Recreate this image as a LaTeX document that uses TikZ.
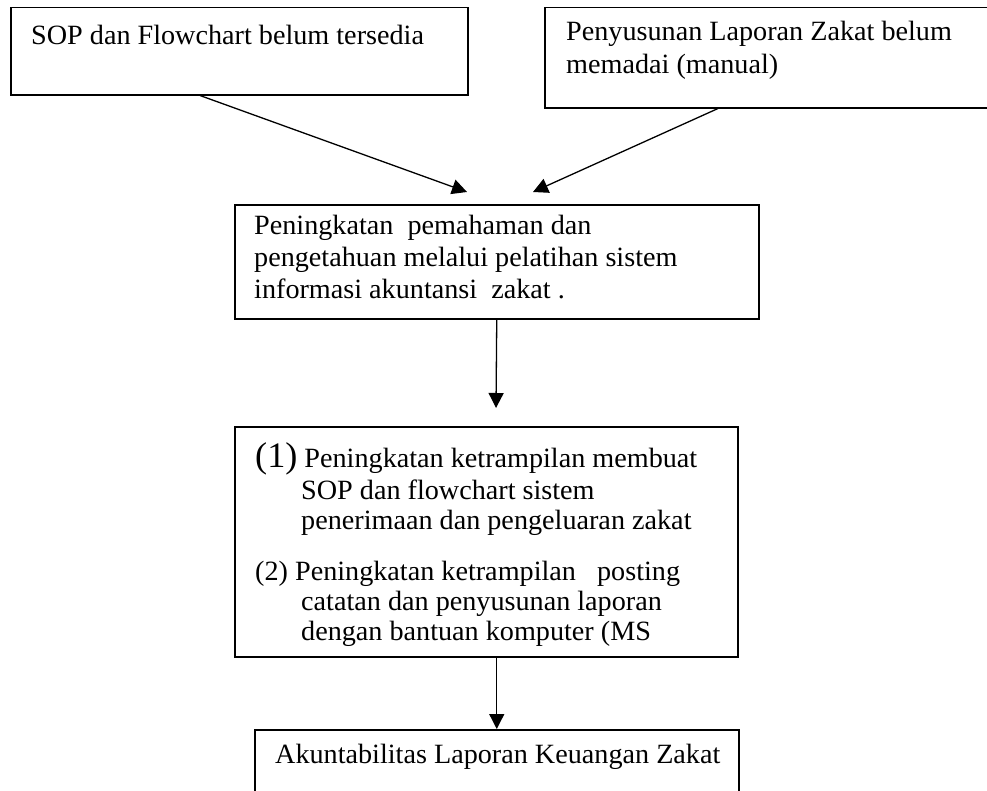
\documentclass[tikz,border=0pt]{standalone}
\usepackage{fontspec}
\setmainfont[FakeStretch=1.01]{Liberation Serif}
\usetikzlibrary{arrows.meta,calc}

\begin{document}
\begin{tikzpicture}[x=1bp,y=-1bp,
  box/.style={draw, line width=1.5bp, rectangle, inner sep=0pt, anchor=north west},
  txt/.style={anchor=base west, inner sep=0pt, font=\fontsize{28}{32}\selectfont},
  arr/.style={line width=1.3bp, -{Triangle[length=15bp,width=15bp]}}]

\useasboundingbox (0,0) rectangle (987,791);
\clip (0,0) rectangle (987,791);

% boxes
\node[box, minimum width=457bp, minimum height=87bp]  (b1) at (10,7) {};
\node[box, minimum width=470bp, minimum height=100bp] (b2) at (544,7) {};
\node[box, minimum width=524bp, minimum height=114bp] (b3) at (234,204) {};
\node[box, minimum width=503bp, minimum height=230bp] (b4) at (234,426) {};
\node[box, minimum width=484bp, minimum height=80bp]  (b5) at (254,729) {};

% box texts
\node[txt] (t1) at (31,45) {SOP dan Flowchart belum tersedia};

\node[txt] (t2a) at (566,41) {Penyusunan Laporan Zakat belum};
\node[txt] (t2b) at (566,74) {memadai (manual)};

\node[txt] (t3a) at (254,234) {Peningkatan\ \ pemahaman dan};
\node[txt] (t3b) at (254,266) {pengetahuan melalui pelatihan sistem};
\node[txt] (t3c) at (254,298) {informasi akuntansi\ \ zakat .};

\node[txt] (t4a) at (255,467) {{\fontsize{36}{36}\selectfont(1)} Peningkatan ketrampilan membuat};
\node[txt] (t4b) at (301,499) {SOP dan flowchart sistem};
\node[txt] (t4c) at (301,529) {penerimaan dan pengeluaran zakat};
\node[txt] (t4d) at (255,580) {(2) Peningkatan ketrampilan\ \ \ posting};
\node[txt] (t4e) at (301,610) {catatan dan penyusunan laporan};
\node[txt] (t4f) at (301,640) {dengan bantuan komputer (MS};

\node[txt] (t5) at (275,763) {Akuntabilitas Laporan Keuangan Zakat};

% free arrow ends
\coordinate (e1) at (467,192);
\coordinate (e2) at (533,192);
\coordinate (e3) at (496,408);

% connectors
\draw[arr] ([xshift=190bp]b1.south west) -- (e1);
\draw[arr] ([xshift=174bp]b2.south west) -- (e2);
\draw[arr] (b3.south) -- (e3);
\draw[arr] (b4.south -| b5.north) -- (b5.north);
\end{tikzpicture}
\end{document}
